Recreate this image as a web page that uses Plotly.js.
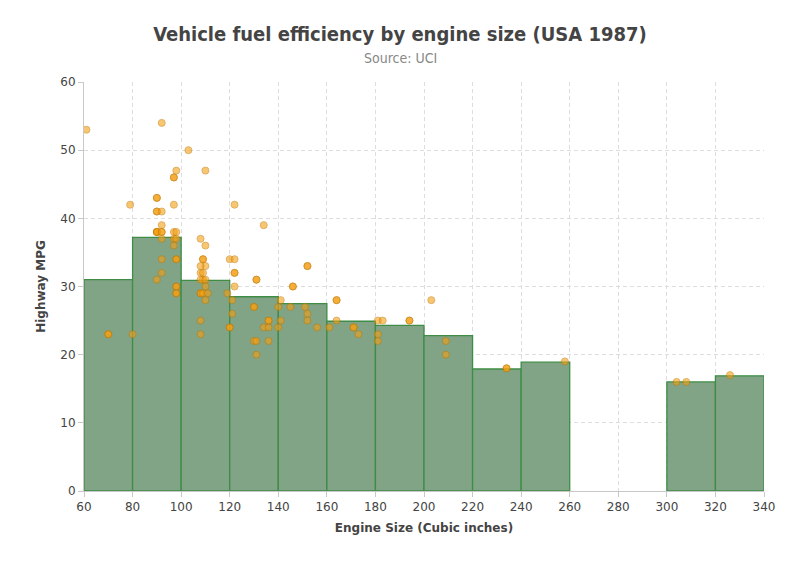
<!DOCTYPE html>
<html>
<head>
<meta charset="utf-8">
<script src="https://cdn.plot.ly/plotly-3.0.1.min.js"></script>
<style>html,body{margin:0;padding:0;background:#fff;}#chart{width:800px;height:570px;}</style>
</head>
<body>
<div id="chart"></div>
<script>
// Histogram bins (engine size, cubic inches) and mean highway MPG per bin
const binCenters = [70, 90, 110, 130, 150, 170, 190, 210, 230, 250, 310, 330];
const binMeanMpg = [31.0, 37.2, 30.9, 28.5, 27.5, 24.9, 24.3, 22.8, 17.9, 18.9, 16.0, 16.9];
const binWidth = 20;

// Individual vehicles
const engineSize = [
  61, 92, 103, 98, 110, 97, 97, 90, 90, 79, 97, 122, 90, 90, 92, 92, 134,
  90, 90, 90, 90, 92, 92, 97, 98,
  92, 97, 98, 108, 97, 110,
  92, 98, 98, 109, 109, 120, 122,
  110, 108, 152, 152,
  92, 108, 109, 122, 122,
  90, 109, 108, 110, 131, 131,
  98, 98, 110, 122, 146, 146,
  98, 98, 108, 108, 109, 111, 119,
  110, 121, 141, 164, 164, 203,
  130, 130, 140, 145, 151,
  121, 152,
  108, 136, 136, 141, 152, 164, 181, 183, 194, 194,
  120, 120, 134, 136, 140, 156, 161, 171, 171,
  70, 70, 80, 108, 173, 181,
  130, 131, 136, 181, 209,
  131, 209,
  234, 234, 258,
  304, 308, 326
];
const highwayMpg = [
  53, 54, 50, 47, 47, 46, 46, 43, 43, 42, 42, 42, 41, 41, 41, 39, 39,
  38, 38, 38, 38, 38, 38, 38, 38,
  37, 37, 37, 37, 36, 36,
  34, 34, 34, 34, 34, 34, 34,
  33, 33, 33, 33,
  32, 32, 32, 32, 32,
  31, 31, 31, 31, 31, 31,
  30, 30, 30, 30, 30, 30,
  29, 29, 29, 29, 29, 29, 29,
  28, 28, 28, 28, 28, 28,
  27, 27, 27, 27, 27,
  26, 26,
  25, 25, 25, 25, 25, 25, 25, 25, 25, 25,
  24, 24, 24, 24, 24, 24, 24, 24, 24,
  23, 23, 23, 23, 23, 23,
  22, 22, 22, 22, 22,
  20, 20,
  18, 18, 19,
  16, 16, 17
];

const xTicks = [60, 80, 100, 120, 140, 160, 180, 200, 220, 240, 260, 280, 300, 320, 340];
const yTicks = [0, 10, 20, 30, 40, 50, 60];

const font = "'DejaVu Sans', Verdana, sans-serif";
const condensed = "'DejaVu Sans Condensed', 'DejaVu Sans', sans-serif";

const bars = {
  type: 'bar',
  x: binCenters,
  y: binMeanMpg,
  width: binCenters.map(() => binWidth),
  marker: {color: '#80a485', line: {color: '#3e8c46', width: 1.3}},
  hoverinfo: 'x+y',
  showlegend: false
};
const points = {
  type: 'scatter',
  mode: 'markers',
  x: engineSize,
  y: highwayMpg,
  marker: {size: 7, color: '#f5a014', opacity: 0.6, line: {color: '#c97d00', width: 1}},
  showlegend: false
};

const layout = {
  width: 800, height: 570,
  margin: {l: 84, r: 36, t: 82, b: 79},
  paper_bgcolor: '#ffffff', plot_bgcolor: '#ffffff',
  font: {family: font, size: 12, color: '#444'},
  bargap: 0,
  title: {
    text: 'Vehicle fuel efficiency by engine size (USA 1987)',
    font: {family: condensed, size: 20, color: '#444', weight: 'bold'},
    x: 0.5, xanchor: 'center', yref: 'container', y: 1 - 34/570, yanchor: 'middle'
  },
  annotations: [{
    text: 'Source: UCI', showarrow: false,
    xref: 'paper', yref: 'paper', x: (400 - 84) / 680, y: (491 - 58) / 409,
    xanchor: 'center', yanchor: 'middle',
    font: {family: condensed, size: 14, color: '#888'}
  }],
  xaxis: {
    range: [60, 340], tickvals: xTicks, ticktext: xTicks.map(String),
    showgrid: true, gridcolor: '#dddddd', griddash: '4px,3px', gridwidth: 1,
    showline: true, linecolor: '#c8c8c8', linewidth: 1,
    ticks: 'outside', ticklen: 5, tickcolor: '#c8c8c8',
    zeroline: false,
    tickfont: {family: font, size: 12, color: '#444'},
    title: {text: 'Engine Size (Cubic inches)', font: {family: font, size: 12, color: '#444', weight: 'bold'}, standoff: 10}
  },
  yaxis: {
    range: [0, 60], tickvals: yTicks, ticktext: yTicks.map(String),
    showgrid: true, gridcolor: '#dddddd', griddash: '4px,3px', gridwidth: 1,
    showline: true, linecolor: '#c8c8c8', linewidth: 1,
    ticks: 'outside', ticklen: 5, tickcolor: '#c8c8c8',
    zeroline: false,
    tickfont: {family: font, size: 12, color: '#444'},
    title: {text: 'Highway MPG', font: {family: font, size: 12, color: '#444', weight: 'bold'}, standoff: 12}
  }
};

Plotly.newPlot('chart', [bars, points], layout, {displayModeBar: false, staticPlot: true});
</script>
</body>
</html>
